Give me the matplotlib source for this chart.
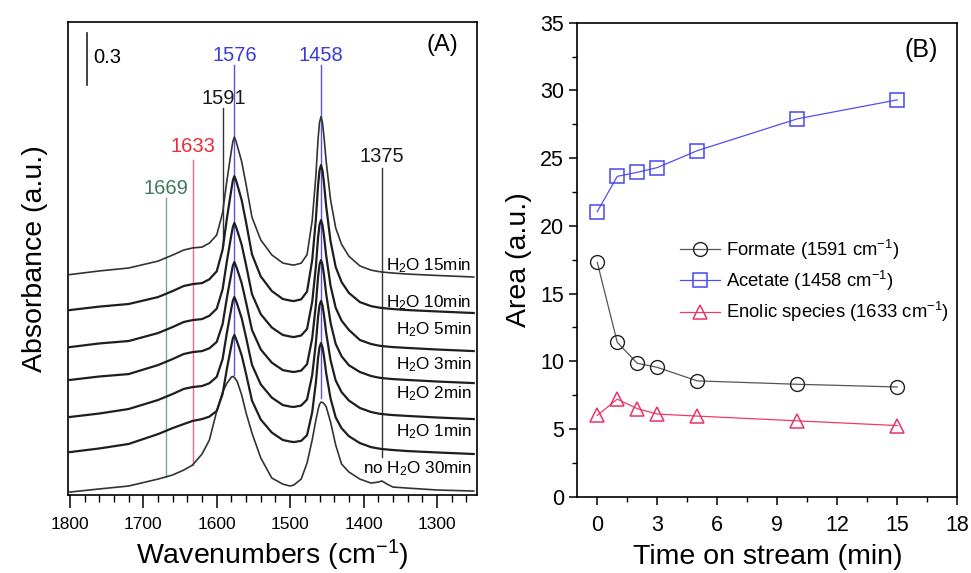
import numpy as np
import matplotlib
matplotlib.use('Agg')
import matplotlib.pyplot as plt
from matplotlib.ticker import MultipleLocator

plt.rcParams['font.family'] = ['Liberation Sans', 'DejaVu Sans']
plt.rcParams['mathtext.fontset'] = 'custom'
plt.rcParams['mathtext.rm'] = 'Liberation Sans'
plt.rcParams['mathtext.it'] = 'Liberation Sans:italic'
plt.rcParams['mathtext.bf'] = 'Liberation Sans:bold'
plt.rcParams['axes.linewidth'] = 1.2

# ---- (A) DRIFT spectra, stacked absorbance vs wavenumber ----
wavenumber = [1800, 1760, 1720, 1680, 1660, 1645, 1633, 1620, 1610, 1600,
              1592, 1586, 1580, 1578, 1576, 1574, 1572, 1566, 1560, 1552,
              1540, 1525, 1510, 1500, 1495, 1485, 1477, 1470, 1465, 1462,
              1460, 1458, 1456, 1454, 1451, 1445, 1438, 1430, 1420, 1405,
              1390, 1380, 1375, 1368, 1360, 1340, 1300, 1250]

abs_noh2o_30 = [0.046, 0.064, 0.081, 0.121, 0.145, 0.173, 0.202, 0.266, 0.347, 0.514,
                0.624, 0.676, 0.711, 0.714, 0.708, 0.697, 0.684, 0.607, 0.503, 0.387,
                0.243, 0.127, 0.092, 0.081, 0.087, 0.121, 0.214, 0.347, 0.462, 0.522,
                0.553, 0.566, 0.565, 0.557, 0.540, 0.451, 0.318, 0.208, 0.162, 0.121,
                0.098, 0.104, 0.110, 0.092, 0.075, 0.069, 0.058, 0.052]
abs_h2o_1 = [0.277, 0.298, 0.324, 0.381, 0.416, 0.439, 0.457, 0.468, 0.482, 0.515,
             0.613, 0.762, 0.894, 0.935, 0.954, 0.935, 0.912, 0.836, 0.728, 0.575,
             0.465, 0.390, 0.347, 0.338, 0.335, 0.342, 0.375, 0.507, 0.678, 0.821,
             0.884, 0.907, 0.884, 0.833, 0.735, 0.587, 0.478, 0.415, 0.369, 0.329,
             0.306, 0.298, 0.295, 0.292, 0.289, 0.283, 0.275, 0.266]
abs_h2o_2 = [0.480, 0.500, 0.526, 0.578, 0.613, 0.642, 0.653, 0.659, 0.675, 0.712,
             0.815, 0.971, 1.110, 1.153, 1.173, 1.154, 1.130, 1.051, 0.939, 0.781,
             0.668, 0.592, 0.549, 0.540, 0.538, 0.546, 0.581, 0.722, 0.906, 1.059,
             1.126, 1.151, 1.126, 1.071, 0.967, 0.808, 0.691, 0.624, 0.575, 0.532,
             0.509, 0.500, 0.497, 0.494, 0.491, 0.486, 0.477, 0.468]
abs_h2o_3 = [0.694, 0.714, 0.728, 0.780, 0.815, 0.844, 0.855, 0.861, 0.877, 0.914,
             1.017, 1.173, 1.312, 1.355, 1.375, 1.356, 1.332, 1.253, 1.141, 0.983,
             0.870, 0.794, 0.751, 0.743, 0.740, 0.748, 0.785, 0.934, 1.128, 1.290,
             1.361, 1.387, 1.361, 1.303, 1.193, 1.025, 0.902, 0.831, 0.779, 0.740,
             0.717, 0.708, 0.705, 0.702, 0.699, 0.694, 0.685, 0.676]
abs_h2o_5 = [0.884, 0.905, 0.919, 0.965, 1.000, 1.029, 1.040, 1.046, 1.065, 1.106,
             1.218, 1.385, 1.534, 1.579, 1.601, 1.582, 1.557, 1.475, 1.357, 1.190,
             1.074, 0.997, 0.954, 0.945, 0.942, 0.951, 0.989, 1.145, 1.348, 1.517,
             1.591, 1.618, 1.591, 1.530, 1.415, 1.239, 1.111, 1.037, 0.983, 0.925,
             0.902, 0.893, 0.890, 0.887, 0.884, 0.879, 0.870, 0.861]
abs_h2o_10 = [1.098, 1.118, 1.133, 1.173, 1.208, 1.237, 1.248, 1.254, 1.276, 1.322,
              1.447, 1.632, 1.797, 1.848, 1.872, 1.851, 1.823, 1.733, 1.604, 1.420,
              1.292, 1.208, 1.162, 1.153, 1.150, 1.160, 1.205, 1.386, 1.622, 1.818,
              1.905, 1.936, 1.905, 1.834, 1.700, 1.496, 1.347, 1.260, 1.197, 1.144,
              1.121, 1.113, 1.110, 1.107, 1.104, 1.098, 1.090, 1.081]
abs_h2o_15 = [1.303, 1.324, 1.341, 1.381, 1.416, 1.445, 1.457, 1.462, 1.485, 1.532,
              1.661, 1.851, 2.021, 2.073, 2.098, 2.077, 2.048, 1.955, 1.823, 1.634,
              1.503, 1.417, 1.370, 1.361, 1.358, 1.369, 1.418, 1.615, 1.873, 2.087,
              2.182, 2.216, 2.182, 2.104, 1.959, 1.736, 1.573, 1.478, 1.409, 1.353,
              1.329, 1.321, 1.318, 1.315, 1.312, 1.306, 1.298, 1.289]

spectra = [abs_noh2o_30, abs_h2o_1, abs_h2o_2, abs_h2o_3, abs_h2o_5, abs_h2o_10, abs_h2o_15]
spectra_labels = ['no H$_2$O 30min', 'H$_2$O 1min', 'H$_2$O 2min', 'H$_2$O 3min',
                  'H$_2$O 5min', 'H$_2$O 10min', 'H$_2$O 15min']
label_y = [0.183, 0.395, 0.613, 0.780, 0.987, 1.140, 1.354]

# band assignments: position, text colour, line colour, label height, line top, line bottom
bands = [
    (1669, '#3d7a5c', '#74ab91', 1.803, 1.746, 0.133),
    (1633, '#ee2a3a', '#f06a86', 2.046, 1.965, 0.202),
    (1591, '#1a1a1a', '#333333', 2.318, 2.266, 1.474),
    (1576, '#3a3ad8', '#5555ee', 2.572, 2.514, 0.723),
    (1458, '#3a3ad8', '#5555ee', 2.572, 2.514, 0.590),
    (1375, '#1a1a1a', '#333333', 1.988, 1.919, 0.249),
]

# ---- (B) integrated band areas vs time on stream ----
time_min = [0, 1, 2, 3, 5, 10, 15]
area_formate = [17.3, 11.4, 9.85, 9.55, 8.55, 8.3, 8.1]
area_acetate = [21.05, 23.65, 23.95, 24.3, 25.55, 27.9, 29.3]
area_enolic = [6.0, 7.2, 6.5, 6.1, 5.95, 5.6, 5.25]

fig = plt.figure(figsize=(9.71, 5.73), dpi=100)
axA = fig.add_axes([0.0697, 0.1361, 0.4212, 0.8255])
axB = fig.add_axes([0.5945, 0.1332, 0.3914, 0.8272])

# ---------- panel A ----------
for i, spec in enumerate(spectra):
    lw = 1.2 if i in (0, 6) else 1.6
    col = '#333333' if i in (0, 6) else '#1e1e1e'
    axA.plot(wavenumber, spec, color=col, lw=lw, solid_joinstyle='round')
    axA.text(1253, label_y[i], spectra_labels[i], ha='right', va='center', fontsize=12.3)

for pos, tcol, lcol, ytxt, ytop, ybot in bands:
    axA.plot([pos, pos], [ybot, ytop], color=lcol, lw=1.0, zorder=1)
    axA.text(pos, ytxt, str(pos), color=tcol, ha='center', va='center', fontsize=14.5)

# 0.3 absorbance scale bar
axA.plot([1777, 1777], [2.40, 2.70], color='#222222', lw=1.2)
axA.text(1768, 2.555, '0.3', ha='left', va='center', fontsize=14.5)
axA.text(0.955, 0.952, '(A)', transform=axA.transAxes, ha='right', va='center', fontsize=17)

axA.set_xlim(1803, 1246)
axA.set_ylim(0.029, 2.763)
axA.xaxis.set_major_locator(MultipleLocator(100))
axA.xaxis.set_minor_locator(MultipleLocator(20))
axA.tick_params(axis='x', which='major', direction='out', length=9, width=1.1,
                labelsize=12.5, pad=7)
axA.tick_params(axis='x', which='minor', direction='out', length=5, width=1.0)
axA.set_yticks([])
axA.set_xlabel('Wavenumbers (cm$^{-1}$)', fontsize=20.5, labelpad=4)
axA.set_ylabel('Absorbance (a.u.)', fontsize=20.5, labelpad=14)

# ---------- panel B ----------
axB.plot(time_min, area_formate, color='#555555', lw=0.9, marker='o', ms=10,
         mfc='none', mec='#222222', mew=1.0, label='Formate (1591 cm$^{-1}$)')
axB.plot(time_min, area_acetate, color='#5050f0', lw=0.9, marker='s', ms=9.5,
         mfc='none', mec='#4646ee', mew=1.1, label='Acetate (1458 cm$^{-1}$)')
axB.plot(time_min, area_enolic, color='#ec3c66', lw=0.9, marker='^', ms=10.5,
         mfc='none', mec='#e8336b', mew=1.1, label='Enolic species (1633 cm$^{-1}$)')

axB.set_xlim(-1, 18)
axB.set_ylim(0, 35)
axB.xaxis.set_major_locator(MultipleLocator(3))
axB.xaxis.set_minor_locator(MultipleLocator(1.5))
axB.yaxis.set_major_locator(MultipleLocator(5))
axB.yaxis.set_minor_locator(MultipleLocator(2.5))
axB.tick_params(which='major', direction='out', length=6, width=1.1, labelsize=15.5)
axB.tick_params(axis='x', which='major', pad=7)
axB.tick_params(which='minor', direction='out', length=3.5, width=1.0)
axB.set_xlabel('Time on stream (min)', fontsize=20.5, labelpad=6)
axB.set_ylabel('Area (a.u.)', fontsize=20.5, labelpad=6)
axB.text(0.95, 0.943, '(B)', transform=axB.transAxes, ha='right', va='center', fontsize=18)

axB.legend(loc='upper left', bbox_to_anchor=(0.25, 0.562), frameon=False, fontsize=13.3,
           handlelength=2.2, handletextpad=0.3, labelspacing=0.38, borderaxespad=0)

fig.savefig('out.png', dpi=100)
